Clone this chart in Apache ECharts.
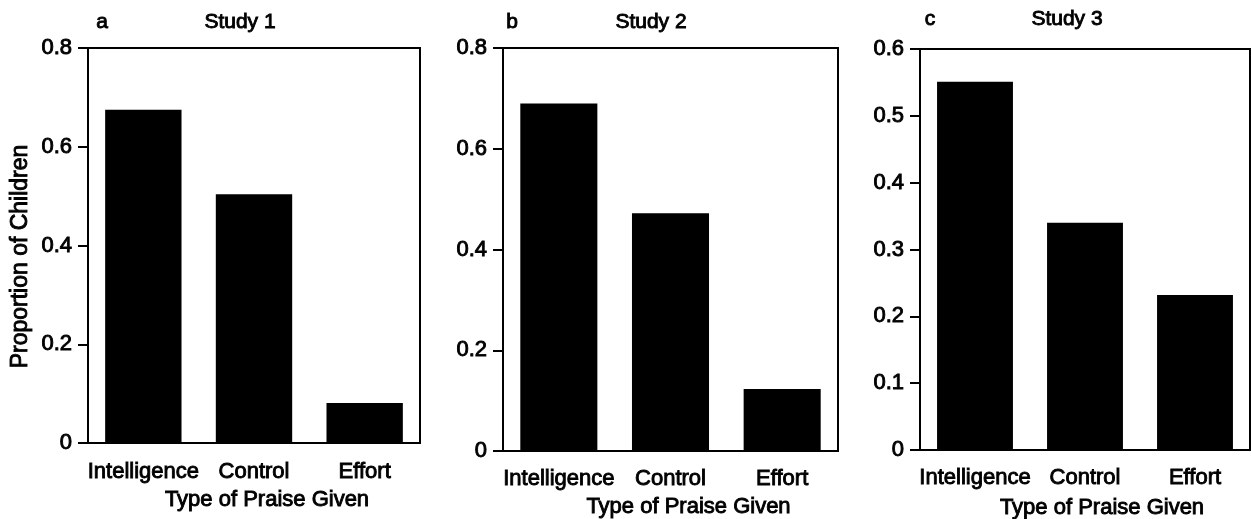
<!DOCTYPE html>
<html>
<head>
<meta charset="utf-8">
<script src="https://cdn.jsdelivr.net/npm/echarts@6/dist/echarts.min.js"></script>
<style>
html,body{margin:0;padding:0;background:#fff;}
#c{width:1251px;height:519px;}
</style>
</head>
<body>
<div id="c"></div>
<script>
var categories = ['Intelligence', 'Control', 'Effort'];
var study1 = [0.675, 0.504, 0.081];
var study2 = [0.69, 0.472, 0.123];
var study3 = [0.551, 0.34, 0.232];
var panelLetters = ['a', 'b', 'c'];
var panelTitles = ['Study 1', 'Study 2', 'Study 3'];
var yMax = [0.8, 0.8, 0.6];
var yStep = [0.2, 0.2, 0.1];
var xTitle = 'Type of Praise Given';
var yTitle = 'Proportion of Children';

var FONT = "'Liberation Sans', Arial, sans-serif";
var grids = [
  {left: 88, top: 48, width: 332, height: 395},
  {left: 503, top: 48, width: 335, height: 403},
  {left: 920, top: 49, width: 330, height: 401}
];
var letterX = [102, 512, 930];
var titleX = [240, 651, 1067];
var titleTop = [12, 12, 9];
var titleShift = [26, 36, 34];
var labelMargin = [18, 17, 17];
var nameGaps = [46, 43, 47];
var seriesData = [study1, study2, study3];

function txt(size) {
  return {color: '#000', fontFamily: FONT, fontSize: size, fontWeight: 'normal',
          textBorderColor: '#000', textBorderWidth: 0.9};
}

var option = {
  animation: false,
  backgroundColor: '#fff',
  title: [],
  grid: [],
  xAxis: [],
  yAxis: [],
  series: []
};

for (var i = 0; i < 3; i++) {
  option.title.push({
    text: panelLetters[i], left: letterX[i], top: titleTop[i], textAlign: 'center', padding: 0,
    textStyle: txt(21)
  });
  option.title.push({
    text: panelTitles[i], left: titleX[i], top: titleTop[i], textAlign: 'center', padding: 0,
    textStyle: txt(21)
  });
  option.grid.push({
    left: grids[i].left, top: grids[i].top, width: grids[i].width, height: grids[i].height,
    containLabel: false, outerBoundsMode: 'none',
    show: true, borderColor: '#000', borderWidth: 2, backgroundColor: 'transparent'
  });
  var xl = txt(22); xl.margin = labelMargin[i]; xl.interval = 0;
  var xn = txt(22); xn.padding = [0, 0, 0, titleShift[i]];
  option.xAxis.push({
    type: 'category', gridIndex: i, data: categories,
    axisLine: {lineStyle: {color: '#000', width: 2}},
    axisTick: {alignWithLabel: true, length: 10, lineStyle: {color: '#000', width: 2}},
    axisLabel: xl,
    name: xTitle, nameLocation: 'middle', nameGap: nameGaps[i],
    nameTextStyle: xn,
    splitLine: {show: false}
  });
  var yl = txt(22); yl.margin = 16;
  var y = {
    type: 'value', gridIndex: i, min: 0, max: yMax[i], interval: yStep[i],
    axisLine: {show: true, lineStyle: {color: '#000', width: 2}},
    axisTick: {show: true, length: 10, lineStyle: {color: '#000', width: 2}},
    axisLabel: yl,
    splitLine: {show: false}
  };
  if (i === 0) {
    var yn = txt(23); yn.padding = [0, 22, 0, 0];
    y.name = yTitle;
    y.nameLocation = 'middle';
    y.nameGap = 56;
    y.nameRotate = 90;
    y.nameTextStyle = yn;
  }
  option.yAxis.push(y);
  option.series.push({
    type: 'bar', xAxisIndex: i, yAxisIndex: i, data: seriesData[i],
    barWidth: '69%', itemStyle: {color: '#000'}
  });
}

var chart = echarts.init(document.getElementById('c'), null, {renderer: 'canvas'});
chart.setOption(option);
</script>
</body>
</html>
